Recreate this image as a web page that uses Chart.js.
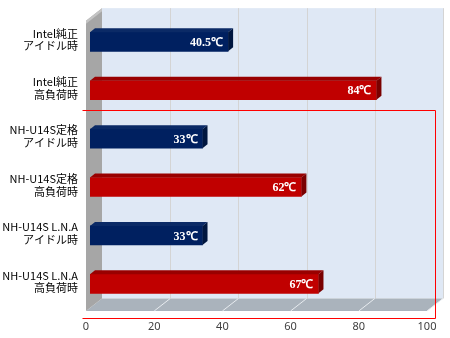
<!DOCTYPE html>
<html>
<head>
<meta charset="utf-8">
<script src="https://cdn.jsdelivr.net/npm/chart.js@4"></script>
<style>
  html, body { margin: 0; padding: 0; background: #fff; }
  #wrap { width: 450px; height: 338px; position: relative; }
</style>
</head>
<body>
<div id="wrap"><canvas id="chart"></canvas></div>
<script>
// データ
const categories = [
  ["Intel純正", "アイドル時"],
  ["Intel純正", "高負荷時"],
  ["NH-U14S定格", "アイドル時"],
  ["NH-U14S定格", "高負荷時"],
  ["NH-U14S L.N.A", "アイドル時"],
  ["NH-U14S L.N.A", "高負荷時"]
];
const temps = [40.5, 84, 33, 62, 33, 67];
const valueLabels = ["40.5℃", "84℃", "33℃", "62℃", "33℃", "67℃"];
const xTicks = [0, 20, 40, 60, 80, 100];

// 見た目
const DX = 16, DY = 12.5;          // 奥行き
const BAR_DX = 4, BAR_DY = 3;      // 棒の前面オフセット
const BAR_SX = 5, BAR_SY = 4;      // 棒の厚み
const idleColor = { front: "#002060", top: "#0b2a66", side: "#00163f" };
const loadColor = { front: "#c00000", top: "#990000", side: "#7a0000" };
const HIGHLIGHT = { left: 82.5, top: 110.5, right: 435.5, bottom: 318.5 };

function colorOf(i) {
  return i % 2 === 0 ? idleColor : loadColor;
}

function poly(ctx, pts, fill) {
  ctx.beginPath();
  ctx.moveTo(pts[0][0], pts[0][1]);
  for (let k = 1; k < pts.length; k++) ctx.lineTo(pts[k][0], pts[k][1]);
  ctx.closePath();
  ctx.fillStyle = fill;
  ctx.fill();
}

const frame3d = {
  id: "frame3d",
  beforeDatasetsDraw(chart) {
    const { ctx, chartArea: a, scales: { x } } = chart;
    ctx.save();

    // 奥の壁
    ctx.fillStyle = "#dfe8f5";
    ctx.fillRect(a.left + DX, a.top - DY, a.right - a.left, a.bottom - a.top);

    // 壁の目盛線
    ctx.strokeStyle = "#d4d4d4";
    ctx.lineWidth = 1;
    xTicks.forEach(v => {
      if (v === 0) return;
      const px = Math.round(x.getPixelForValue(v) + DX) + 0.5;
      ctx.beginPath();
      ctx.moveTo(px, a.top - DY);
      ctx.lineTo(px, a.bottom - DY);
      ctx.stroke();
    });

    // 床
    poly(ctx, [
      [a.left, a.bottom], [a.right, a.bottom],
      [a.right + DX, a.bottom - DY], [a.left + DX, a.bottom - DY]
    ], "#aab3bc");
    ctx.strokeStyle = "#e8ecf0";
    xTicks.forEach(v => {
      if (v === 0) return;
      const px = x.getPixelForValue(v);
      ctx.beginPath();
      ctx.moveTo(px, a.bottom);
      ctx.lineTo(px + DX, a.bottom - DY);
      ctx.stroke();
    });

    // 左の壁
    poly(ctx, [
      [a.left, a.top], [a.left + DX, a.top - DY],
      [a.left + DX, a.bottom - DY], [a.left, a.bottom]
    ], "#a6a6a6");
    poly(ctx, [
      [a.left, a.top], [a.left + DX, a.top - DY],
      [a.left + DX, a.top - DY + 3], [a.left, a.top + 3]
    ], "#c4c4c4");

    ctx.restore();

    // 棒を少し奥へ
    ctx.save();
    ctx.translate(BAR_DX, -BAR_DY);
  },
  afterDatasetsDraw(chart) {
    const { ctx } = chart;
    const meta = chart.getDatasetMeta(0);
    meta.data.forEach((bar, i) => {
      const p = bar.getProps(["x", "y", "base", "height"], true);
      const x0 = p.base, x1 = p.x;
      const top = p.y - p.height / 2, bot = p.y + p.height / 2;
      const c = colorOf(i);
      // 上面
      poly(ctx, [
        [x0, top], [x1, top], [x1 + BAR_SX, top - BAR_SY], [x0 + BAR_SX, top - BAR_SY]
      ], c.top);
      // 側面
      poly(ctx, [
        [x1, top], [x1 + BAR_SX, top - BAR_SY], [x1 + BAR_SX, bot - BAR_SY], [x1, bot]
      ], c.side);

      // ラベル
      ctx.font = "bold 12px 'Liberation Serif', serif";
      ctx.fillStyle = "#ffffff";
      ctx.textAlign = "right";
      ctx.textBaseline = "middle";
      ctx.fillText(valueLabels[i], x1 - 5, p.y + 1);
    });
    ctx.restore();
  },
  afterDraw(chart) {
    const { ctx } = chart;
    ctx.save();
    ctx.strokeStyle = "#ff0000";
    ctx.lineWidth = 1;
    ctx.beginPath();
    ctx.moveTo(HIGHLIGHT.left, HIGHLIGHT.top);
    ctx.lineTo(HIGHLIGHT.right, HIGHLIGHT.top);
    ctx.lineTo(HIGHLIGHT.right, HIGHLIGHT.bottom);
    ctx.lineTo(HIGHLIGHT.left, HIGHLIGHT.bottom);
    ctx.stroke();
    ctx.restore();
  }
};

const ctx = document.getElementById("chart").getContext("2d");
const chart = new Chart(ctx, {
  type: "bar",
  data: {
    labels: categories,
    datasets: [{
      data: temps,
      backgroundColor: categories.map((_, i) => colorOf(i).front),
      borderWidth: 0,
      barThickness: 19
    }]
  },
  options: {
    indexAxis: "y",
    responsive: true,
    maintainAspectRatio: false,
    animation: false,
    layout: { padding: { top: 20, right: 23, left: 0, bottom: 0 } },
    plugins: {
      legend: { display: false },
      tooltip: { enabled: false }
    },
    scales: {
      x: {
        min: 0,
        max: 100,
        afterBuildTicks: scale => { scale.ticks = xTicks.map(v => ({ value: v })); },
        afterFit: scale => { scale.height = 27; },
        grid: { display: false, drawTicks: false },
        border: { display: false },
        ticks: {
          padding: 9,
          color: "#404040",
          font: { family: "'Noto Sans', sans-serif", size: 11 },
          maxRotation: 0
        }
      },
      y: {
        afterFit: scale => { scale.width = 86; },
        grid: { display: false, drawTicks: false },
        border: { display: false },
        ticks: {
          padding: 8,
          labelOffset: -5,
          color: "#000000",
          font: { family: "'Noto Sans CJK JP', sans-serif", size: 11, lineHeight: 1.15 }
        }
      }
    }
  },
  plugins: [frame3d]
});
</script>
</body>
</html>
